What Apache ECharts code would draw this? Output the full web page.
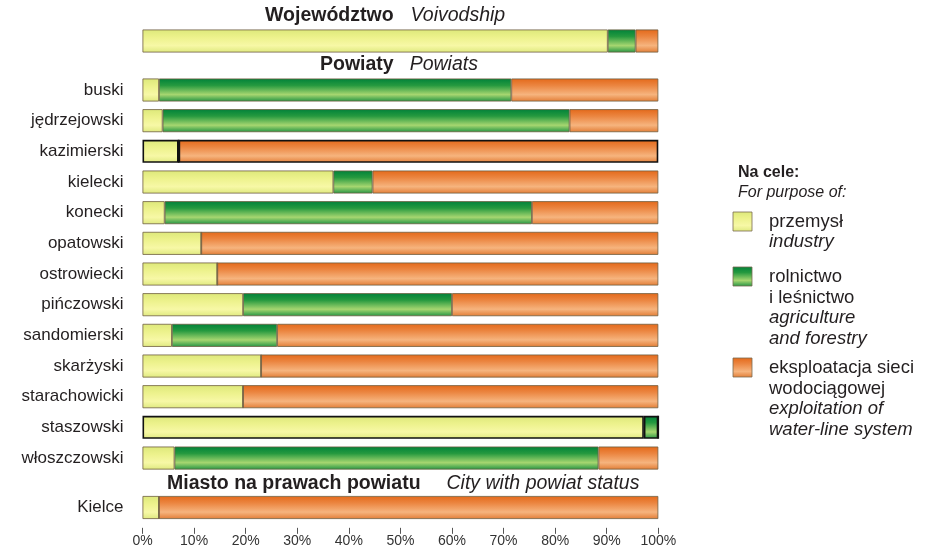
<!DOCTYPE html>
<html>
<head>
<meta charset="utf-8">
<script src="https://cdn.jsdelivr.net/npm/echarts@6/dist/echarts.min.js"></script>
<style>html,body{margin:0;padding:0;background:#fff;}#c{width:933px;height:558px;}</style>
</head>
<body>
<div id="c"></div>
<script>
// ---- data ----
const seriesNames = ['przemysł', 'rolnictwo i leśnictwo', 'eksploatacja sieci wodociągowej'];
const voivodshipLabel = ['Województwo'];
const voivodshipIndustry = [90.2];
const voivodshipAgriculture = [5.4];
const voivodshipWaterline = [4.4];

const powiats = ['buski','jędrzejowski','kazimierski','kielecki','konecki','opatowski','ostrowiecki','pińczowski','sandomierski','skarżyski','starachowicki','staszowski','włoszczowski'];
const powiatIndustry    = [3.2, 3.9, 7.0, 37.0, 4.3, 11.4, 14.5, 19.5, 5.7, 23.0, 19.5, 97.2, 6.2];
const powiatAgriculture = [68.3, 78.9, 0, 7.6, 71.2, 0, 0, 40.5, 20.4, 0, 0, 2.8, 82.2];
const powiatWaterline   = [28.5, 17.2, 93.0, 55.4, 24.5, 88.6, 85.5, 40.0, 73.9, 77.0, 80.5, 0, 11.6];
const outlinedPowiats = ['kazimierski', 'staszowski'];

const cities = ['Kielce'];
const cityIndustry = [3.2];
const cityAgriculture = [0];
const cityWaterline = [96.8];

const tickLabels = ['0%','10%','20%','30%','40%','50%','60%','70%','80%','90%','100%'];

// ---- styles ----
const TXT = '#231f20';
const FONT = '"Liberation Sans", Arial, sans-serif';
function grad(stops){ return new echarts.graphic.LinearGradient(0,0,0,1, stops.map((c)=>({offset:c[0], color:c[1]}))); }
const fills = [
  () => grad([[0,'#dde87a'],[0.35,'#edf28d'],[0.7,'#f7f8a6'],[1,'#dfe97f']]),
  () => grad([[0,'#00823a'],[0.3,'#25993f'],[0.7,'#a6d670'],[1,'#239443']]),
  () => grad([[0,'#e4691a'],[0.3,'#eb8540'],[0.7,'#f6b47e'],[1,'#e27d36']])
];
const L = 142.5, R = 933 - 658.3;
const rowH = 30.67;
const grids = [
  {left:L, right:R, top:41 - rowH/2, height:rowH},
  {left:L, right:R, top:90 - rowH/2, height:rowH*13},
  {left:L, right:R, top:507.5 - rowH/2, height:rowH}
];
const xAxes = grids.map((g,i)=>({
  type:'value', gridIndex:i, min:0, max:100, interval:10,
  show: i===2,
  offset: 5,
  axisLine:{show:false},
  axisTick:{show:true, length:6, lineStyle:{color:'#555', width:1}},
  splitLine:{show:false},
  axisLabel:{show:i===2, color:'#333', fontFamily:FONT, fontSize:14, margin:6,
    formatter:(v)=>tickLabels[Math.round(v/10)]}
}));
const cats = [voivodshipLabel, powiats, cities];
const yAxes = cats.map((c,i)=>({
  type:'category', gridIndex:i, data:c, inverse:true,
  axisLine:{show:false}, axisTick:{show:false}, splitLine:{show:false},
  axisLabel:{show:i!==0, color:TXT, fontFamily:FONT, fontSize:17, margin:19}
}));
const groups = [
  [voivodshipIndustry, voivodshipAgriculture, voivodshipWaterline],
  [powiatIndustry, powiatAgriculture, powiatWaterline],
  [cityIndustry, cityAgriculture, cityWaterline]
];
const series = [];
groups.forEach((g,gi)=>{
  g.forEach((vals,si)=>{
    series.push({
      type:'bar', name:seriesNames[si], stack:'s'+gi, xAxisIndex:gi, yAxisIndex:gi,
      barWidth:23,
      silent:true,
      itemStyle:{color:fills[si](), borderColor:'#6e5e40', borderWidth:0.8},
      data: vals.map((v,k)=>{
        const name = cats[gi][k];
        if (outlinedPowiats.indexOf(name) >= 0) {
          return {value:v, itemStyle:{borderColor:'#111', borderWidth:1.6}};
        }
        return v;
      })
    });
  });
});

// headers
function header(x, y, bold, ital, gap){
  return {type:'text', x:x, y:y, style:{
    text:'{b|'+bold+'}{i|'+ital+'}', align:'left', verticalAlign:'middle',
    rich:{
      b:{fontFamily:FONT, fontWeight:'bold', fontSize:19.5, fill:TXT},
      i:{fontFamily:FONT, fontStyle:'italic', fontSize:19.5, fill:TXT, padding:[0,0,0,gap]}
    }}};
}
// legend
const lx = 733, tx = 769;
function sw(y, si){
  return {type:'rect', shape:{x:lx, y:y, width:19, height:19},
    style:{fill:fills[si](), stroke:'#7a6a50', lineWidth:0.8}};
}
function t(x, y, s, style){
  return {type:'text', x:x, y:y, style:Object.assign({text:s, fontFamily:FONT, fontSize:18.5, fill:TXT, verticalAlign:'middle'}, style||{})};
}
const graphics = [
  header(265, 16, 'Województwo', 'Voivodship', 17),
  header(320, 65, 'Powiaty', 'Powiats', 16),
  header(167, 484, 'Miasto na prawach powiatu', 'City with powiat status', 26),
  t(738, 173, 'Na cele:', {fontWeight:'bold', fontSize:16}),
  t(738, 193, 'For purpose of:', {fontStyle:'italic', fontSize:16}),
  sw(212, 0),
  t(tx, 222, 'przemysł'),
  t(tx, 242, 'industry', {fontStyle:'italic'}),
  sw(267, 1),
  t(tx, 277, 'rolnictwo'),
  t(tx, 298, 'i leśnictwo'),
  t(tx, 318, 'agriculture', {fontStyle:'italic'}),
  t(tx, 339, 'and forestry', {fontStyle:'italic'}),
  sw(358, 2),
  t(tx, 368, 'eksploatacja sieci'),
  t(tx, 389, 'wodociągowej'),
  t(tx, 409, 'exploitation of', {fontStyle:'italic'}),
  t(tx, 430, 'water-line system', {fontStyle:'italic'})
];

const chart = echarts.init(document.getElementById('c'), null, {renderer:'canvas'});
chart.setOption({
  animation:false,
  backgroundColor:'#fff',
  grid:grids,
  xAxis:xAxes,
  yAxis:yAxes,
  series:series,
  graphic:graphics
});
</script>
</body>
</html>
